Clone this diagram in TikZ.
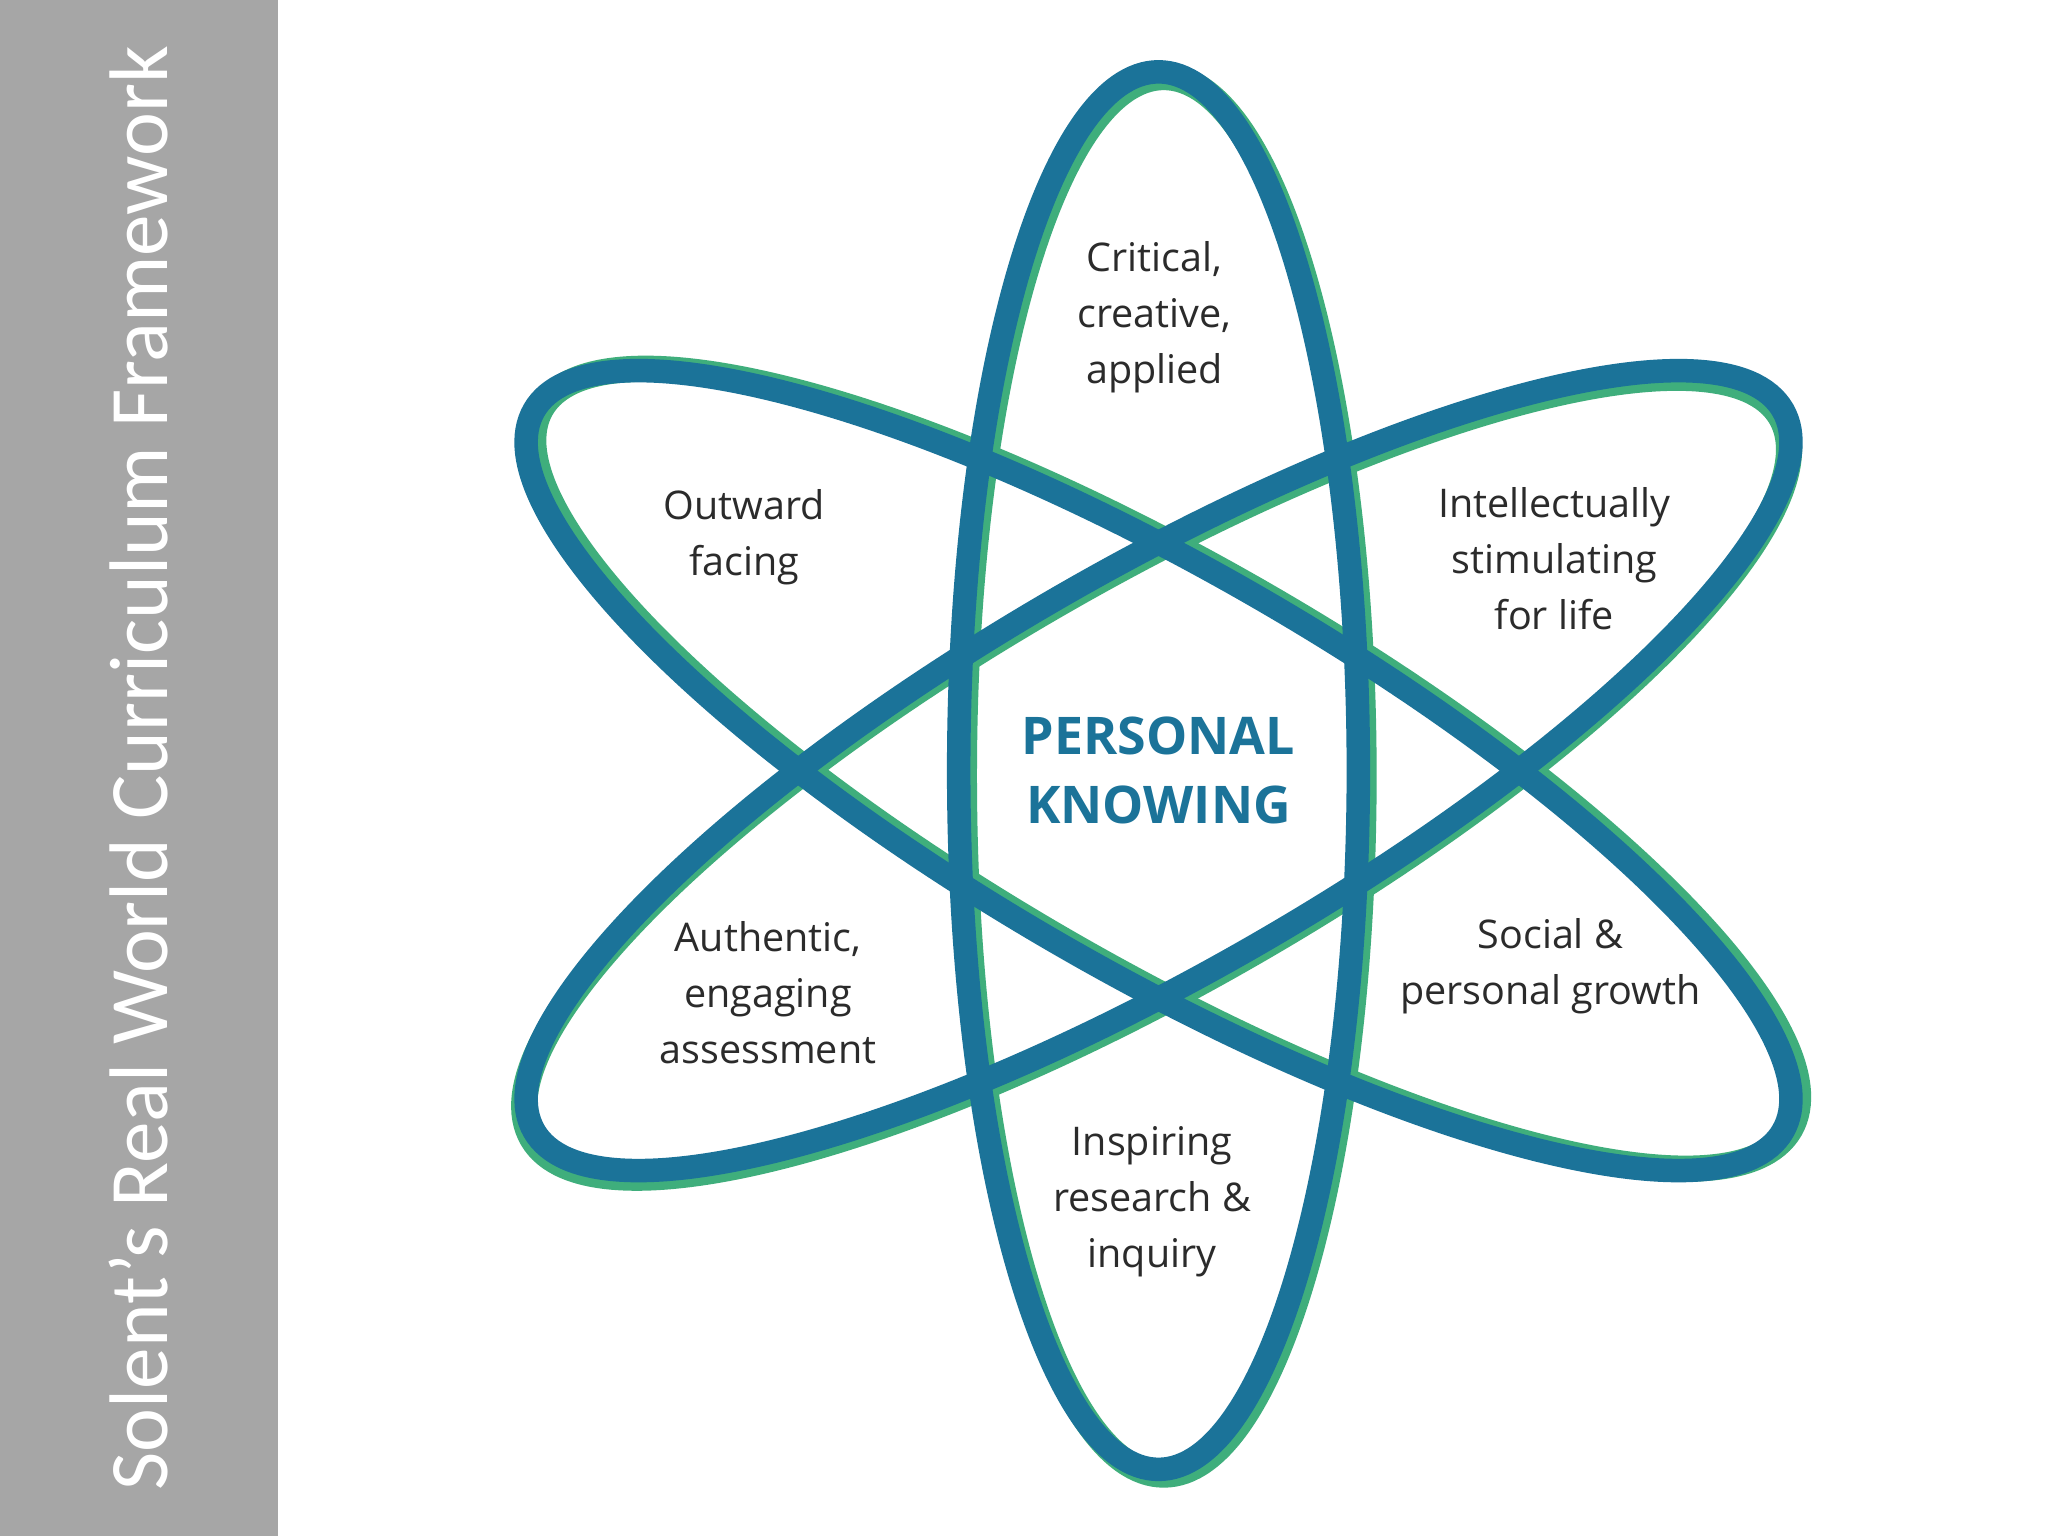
\documentclass[tikz,border=0pt]{standalone}
\usepackage{fontspec}
\setmainfont{Open Sans}
\newfontfamily\titlefont{Carlito}
\definecolor{ringblue}{HTML}{1B7399}
\definecolor{ringgreen}{HTML}{3FAE7C}
\definecolor{txt}{HTML}{2B2B2B}
\begin{document}
\begin{tikzpicture}[x=0.01cm,y=-0.01cm,
  lbl/.style={font=\fontsize{8.6pt}{12.2pt}\selectfont,text=txt,align=center},
  ringg/.style={draw=ringgreen,line width=0.2cm},
  ringb/.style={draw=ringblue,line width=0.18cm}]
\useasboundingbox (0,0) rectangle (1568,1176);
\fill[white] (0,0) rectangle (1568,1176);
\fill[black!35] (0,0) rectangle (213,1176);
\node[rotate=90,text=white,font=\titlefont\fontsize{18.1pt}{22pt}\selectfont] (title) at (106,588) {Solent’s Real World Curriculum Framework};
\coordinate (c) at (887,590);
\foreach \a/\r in {0/535,60/552,-60/552}{
  \draw[ringg,rotate around={\a:(c)}] ([shift={(4,4)}]c) ellipse [x radius=153, y radius=\r];
}
\foreach \a/\r in {0/535,60/552,-60/552}{
  \draw[ringb,rotate around={\a:(c)}] (c) ellipse [x radius=153, y radius=\r];
}
\node[lbl] (t1) at (884,243) {Critical,\\creative,\\applied};
\node[lbl] (t2) at (570,411) {Outward\\facing};
\node[lbl] (t3) at (1190,428) {Intellectually\\stimulating\\for life};
\node[lbl] (t4) at (588,760) {Authentic,\\engaging\\assessment};
\node[lbl] (t5) at (1187,740) {Social \&\\personal growth};
\node[lbl] (t6) at (882,920) {Inspiring\\research \&\\inquiry};
\node[font=\fontsize{11.3pt}{15pt}\selectfont\bfseries,text=ringblue,align=center] (pk) at (887,590) {PERSONAL\\KNOWING};
\end{tikzpicture}
\end{document}
